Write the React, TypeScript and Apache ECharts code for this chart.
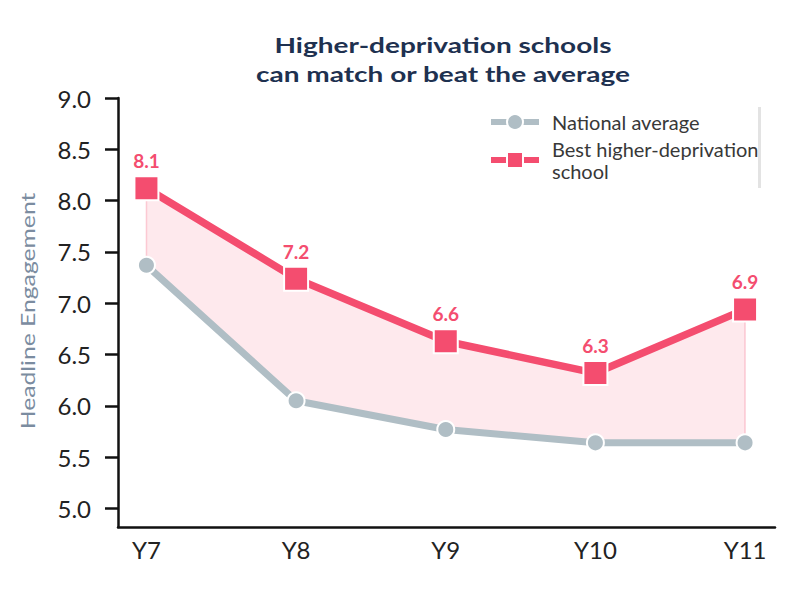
import React, { useEffect, useRef } from 'react';
import * as echarts from 'echarts';

const years = ['Y7', 'Y8', 'Y9', 'Y10', 'Y11'];
const nationalAvg = [7.37, 6.05, 5.77, 5.64, 5.64];
const bestSchool = [8.12, 7.24, 6.63, 6.32, 6.94];
const yTicks = [5.0, 5.5, 6.0, 6.5, 7.0, 7.5, 8.0, 8.5, 9.0];

const PINK = '#f44d6f';
const GREY = '#b0bec5';
const FONT = 'Lato';

export default function App() {
  const elRef = useRef<HTMLDivElement | null>(null);

  useEffect(() => {
    if (!elRef.current) return;
    const chart = echarts.init(elRef.current, undefined, { renderer: 'svg' });

    const toPts = (arr: number[]) => arr.map((v, i) => [i, v]);

    const opt: any = {
      animation: false,
      textStyle: { fontFamily: FONT },
      grid: { left: 118, right: 23, top: 98, bottom: 63 },
      graphic: [
        {
          type: 'text',
          x: 443,
          y: 60,
          scaleX: 1.4,
          style: {
            text: 'Higher-deprivation schools\ncan match or beat the average',
            align: 'center',
            verticalAlign: 'middle',
            fontFamily: FONT,
            fontWeight: 'bold',
            fontSize: 20,
            lineHeight: 29,
            fill: '#1e3150',
          },
        },
        {
          // rotated axis name, drawn wide like the reference
          type: 'text',
          x: 28,
          y: 311,
          rotation: Math.PI / 2,
          scaleX: 1.3,
          style: {
            text: 'Headline Engagement',
            align: 'center',
            verticalAlign: 'middle',
            fontFamily: FONT,
            fontSize: 19,
            fill: '#7b8ca0',
          },
        },
        {
          type: 'rect',
          shape: { x: 758, y: 107, width: 3, height: 81 },
          style: { fill: '#e3e3e3' },
        },
      ],
      legend: {
        orient: 'vertical',
        left: 483,
        top: 106,
        itemWidth: 48,
        itemHeight: 20,
        itemGap: 5,
        lineStyle: { width: 6 },
        itemStyle: { borderColor: '#fff', borderWidth: 2 },
        textStyle: {
          fontFamily: FONT,
          fontSize: 20,
          color: '#383838',
          lineHeight: 22,
          padding: [0, 0, 0, 8],
        },
        formatter: (name: string) =>
          name === 'Best higher-deprivation school' ? 'Best higher-deprivation\nschool' : name,
        data: ['National average', 'Best higher-deprivation school'],
      },
      xAxis: {
        type: 'value',
        min: -0.19,
        max: 4.2,
        splitLine: { show: false },
        axisLine: { onZero: false, lineStyle: { color: '#111', width: 2.5 } },
        axisTick: { show: false },
        axisLabel: {
          customValues: [0, 1, 2, 3, 4],
          formatter: (v: number) => years[Math.round(v)] ?? '',
          color: '#222',
          fontSize: 24,
          fontFamily: FONT,
          margin: 10,
        },
      },
      yAxis: {
        type: 'value',
        min: 4.82,
        max: 9.0,
        splitLine: { show: false },
        axisLine: { show: true, onZero: false, lineStyle: { color: '#111', width: 2.5 } },
        axisTick: { show: true, customValues: yTicks, length: 13, lineStyle: { color: '#111', width: 2.5 } },
        axisLabel: {
          customValues: yTicks,
          formatter: (v: number) => v.toFixed(1),
          color: '#222',
          fontSize: 24,
          fontFamily: FONT,
          margin: 27,
        },
      },
      series: [
        {
          type: 'custom',
          silent: true,
          z: 1,
          data: [[0, bestSchool[0]]],
          renderItem: (params: any, api: any) => {
            if (params.dataIndex !== 0) return null;
            const top = bestSchool.map((v, i) => api.coord([i, v]));
            const bot = nationalAvg.map((v, i) => api.coord([i, v])).reverse();
            return {
              type: 'polygon',
              shape: { points: [...top, ...bot] },
              style: { fill: 'rgba(244,77,111,0.12)', stroke: 'rgba(244,77,111,0.25)', lineWidth: 1.5 },
            };
          },
        },
        {
          name: 'National average',
          type: 'line',
          z: 3,
          data: toPts(nationalAvg),
          symbol: 'circle',
          symbolSize: 17,
          lineStyle: { color: GREY, width: 7 },
          itemStyle: { color: GREY, borderColor: '#fff', borderWidth: 2 },
        },
        {
          name: 'Best higher-deprivation school',
          type: 'line',
          z: 4,
          data: toPts(bestSchool),
          symbol: 'rect',
          symbolSize: 24,
          lineStyle: { color: PINK, width: 7.5 },
          itemStyle: { color: PINK, borderColor: '#fff', borderWidth: 2 },
          label: {
            show: true,
            position: 'top',
            distance: 5,
            formatter: (p: any) => Number(p.value[1]).toFixed(1),
            color: PINK,
            fontSize: 19,
            fontWeight: 'bold',
            fontFamily: FONT,
          },
        },
      ],
    };

    chart.setOption(opt);
    return () => {
      chart.dispose();
    };
  }, []);

  return (
    <div
      ref={elRef}
      style={{ position: 'absolute', left: 0, top: 0, width: 798, height: 590, background: '#fff' }}
    />
  );
}
